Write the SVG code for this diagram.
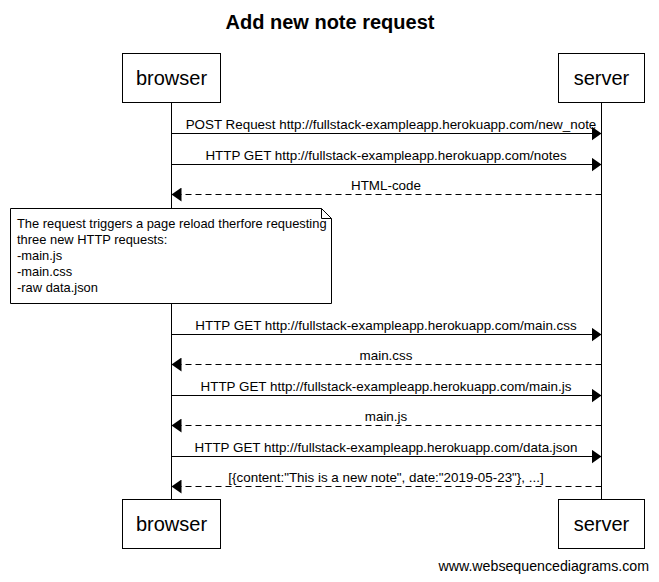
<svg xmlns="http://www.w3.org/2000/svg" width="659" height="582" viewBox="0 0 659 582">
<style>
.actor{fill:#fff;stroke:#000;stroke-width:1}
.an{font-family:"Liberation Sans",Arial,sans-serif;font-size:20px;text-anchor:middle;fill:#000}
.life{stroke:#000;stroke-width:1}
.msg{stroke:#000;stroke-width:1;fill:none}
.ret{stroke-dasharray:6,4}
.lbl{font-family:"Liberation Sans",Arial,sans-serif;font-size:13.4px;text-anchor:middle;fill:#000}
.nt{font-family:"Liberation Sans",Arial,sans-serif;font-size:12.9px;fill:#000}
</style>
<defs>
<marker id="ah" markerWidth="11" markerHeight="14" refX="10" refY="7" orient="auto" markerUnits="userSpaceOnUse">
<path d="M0,0 L10,7 L0,14 z" fill="#000"/>
</marker>
</defs>
<rect width="659" height="582" fill="#fff"/>
<text x="330" y="29" font-family="'Liberation Sans',Arial,sans-serif" font-size="20" font-weight="bold" text-anchor="middle">Add new note request</text>
<g id="lifelines">
<line class="life" x1="171.5" y1="102" x2="171.5" y2="500"/>
<line class="life" x1="601.5" y1="102" x2="601.5" y2="500"/>
</g>
<g id="browser">
<rect class="actor" x="122.5" y="53.5" width="98" height="49"/>
<text class="an" x="171.5" y="85">browser</text>
<rect class="actor" x="122.5" y="499.5" width="98" height="49"/>
<text class="an" x="171.5" y="531">browser</text>
</g>
<g id="server">
<rect class="actor" x="558.5" y="53.5" width="86" height="49"/>
<text class="an" x="601.5" y="85">server</text>
<rect class="actor" x="558.5" y="499.5" width="86" height="49"/>
<text class="an" x="601.5" y="531">server</text>
</g>
<g id="connectors">
<line class="msg" x1="171.5" y1="133.5" x2="601.5" y2="133.5" marker-end="url(#ah)"/>
<text class="lbl" x="391" y="129">POST Request http://fullstack-exampleapp.herokuapp.com/new_note</text>
<line class="msg" x1="171.5" y1="164.5" x2="601.5" y2="164.5" marker-end="url(#ah)"/>
<text class="lbl" x="386" y="160">HTTP GET http://fullstack-exampleapp.herokuapp.com/notes</text>
<line class="msg ret" x1="601.5" y1="194.5" x2="171.5" y2="194.5" marker-end="url(#ah)"/>
<text class="lbl" x="386" y="190">HTML-code</text>
<line class="msg" x1="171.5" y1="334.5" x2="601.5" y2="334.5" marker-end="url(#ah)"/>
<text class="lbl" x="386" y="330">HTTP GET http://fullstack-exampleapp.herokuapp.com/main.css</text>
<line class="msg ret" x1="601.5" y1="364.5" x2="171.5" y2="364.5" marker-end="url(#ah)"/>
<text class="lbl" x="386" y="360">main.css</text>
<line class="msg" x1="171.5" y1="395.5" x2="601.5" y2="395.5" marker-end="url(#ah)"/>
<text class="lbl" x="386" y="391">HTTP GET http://fullstack-exampleapp.herokuapp.com/main.js</text>
<line class="msg ret" x1="601.5" y1="425.5" x2="171.5" y2="425.5" marker-end="url(#ah)"/>
<text class="lbl" x="386" y="421">main.js</text>
<line class="msg" x1="171.5" y1="456.5" x2="601.5" y2="456.5" marker-end="url(#ah)"/>
<text class="lbl" x="386" y="452">HTTP GET http://fullstack-exampleapp.herokuapp.com/data.json</text>
<line class="msg ret" x1="601.5" y1="486.5" x2="171.5" y2="486.5" marker-end="url(#ah)"/>
<text class="lbl" x="386" y="482">[{content:"This is a new note", date:"2019-05-23"}, ...]</text>
</g>
<g id="note">
<path d="M10.5,208.5 H321.5 L331.5,218.5 V303.5 H10.5 Z" fill="#fff" stroke="#000"/>
<path d="M321.5,208.5 V218.5 H331.5" fill="none" stroke="#000"/>
<text class="nt" x="17" y="228">The request triggers a page reload therfore requesting</text>
<text class="nt" x="17" y="244">three new HTTP requests:</text>
<text class="nt" x="17" y="260">-main.js</text>
<text class="nt" x="17" y="276">-main.css</text>
<text class="nt" x="17" y="292">-raw data.json</text>
</g>
<text x="649" y="571" font-family="'Liberation Sans',Arial,sans-serif" font-size="14.2" text-anchor="end">www.websequencediagrams.com</text>
</svg>
